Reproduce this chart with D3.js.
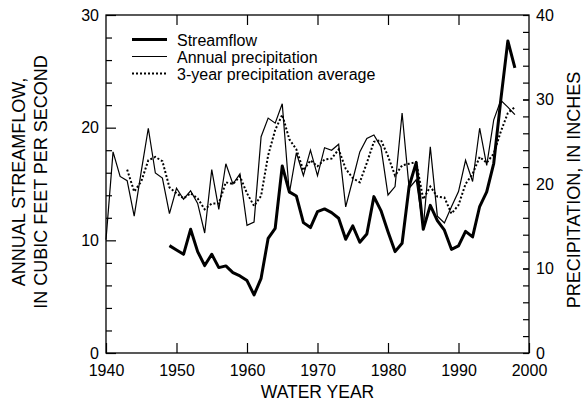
<!DOCTYPE html>
<html>
<head>
<meta charset="utf-8">
<script src="https://cdn.jsdelivr.net/npm/d3@7"></script>
<style>
  html, body { margin: 0; padding: 0; background: #fff; }
  svg { display: block; }
  text { font-family: "Liberation Sans", Arial, Helvetica, sans-serif; fill: #000; }
</style>
</head>
<body>
<svg id="chart" width="586" height="402"></svg>
<script>
// ---- Data ----
const streamYears = d3.range(1949, 1999);
const streamflow = [9.53, 9.15, 8.76, 10.98, 9.0, 7.76, 8.76, 7.58, 7.73, 7.14,
  6.84, 6.43, 5.16, 6.63, 10.18, 11.07, 16.6, 14.3, 13.94, 11.57,
  11.13, 12.55, 12.79, 12.46, 11.96, 10.1, 11.28, 9.83, 10.57, 13.88,
  12.64, 10.77, 9.0, 9.74, 14.8, 16.9, 10.98, 13.1, 11.75, 10.9,
  9.2, 9.5, 10.8, 10.3, 13.0, 14.3, 16.84, 22.46, 27.7, 25.3];

const precipYears = d3.range(1940, 1999);
const annualPrecip = [13.4, 23.8, 20.9, 20.4, 16.2, 21.5, 26.6, 21.3, 20.7, 16.5,
  19.5, 18.2, 19.2, 17.7, 14.2, 21.7, 17.0, 22.4, 20.0, 21.2,
  15.1, 15.5, 25.6, 27.8, 27.2, 29.5, 18.9, 23.7, 21.0, 24.0,
  21.0, 24.3, 24.0, 24.7, 17.3, 20.5, 23.8, 25.4, 25.8, 24.4,
  18.7, 19.7, 28.4, 19.5, 20.5, 14.8, 24.4, 16.2, 15.4, 17.3,
  19.1, 22.8, 20.3, 26.6, 22.2, 27.6, 29.9, 29.1, 28.2];

const avgYears = d3.range(1943, 1999);
const avgPrecip = [21.7, 19.1, 20.3, 22.8, 23.2, 22.7, 19.6,
  18.9, 18.3, 18.9, 18.3, 17.0, 17.7, 17.7, 20.2, 20.0, 20.9,
  18.9, 17.4, 18.6, 23.4, 26.4, 28.2, 25.3, 24.1, 21.6, 22.8,
  22.1, 22.9, 23.0, 24.1, 21.8, 20.7, 20.2, 22.5, 25.0, 25.2,
  23.3, 21.0, 22.2, 22.4, 22.6, 18.2, 19.7, 18.5, 18.4, 16.5,
  17.5, 20.0, 21.2, 23.2, 22.5, 23.6, 26.2, 28.4, 29.1];

const xTicks = [1940, 1950, 1960, 1970, 1980, 1990, 2000];
const leftLabels = [0, 10, 20, 30];
const leftMinor = [2, 4, 6, 8, 12, 14, 16, 18, 22, 24, 26, 28];
const rightLabels = [0, 10, 20, 30, 40];
const rightMinor = d3.range(2, 40, 2);

const legendItems = ["Streamflow", "Annual precipitation", "3-year precipitation average"];

// ---- Layout ----
const L = 106, R = 529, T = 15, B = 353;
const svg = d3.select("#chart");

const x = d3.scaleLinear().domain([1940, 2000]).range([L, R]);
const yL = d3.scaleLinear().domain([0, 30]).range([B, T]);
const yR = d3.scaleLinear().domain([0, 40]).range([B, T]);

const tickFont = 16;

function styleAxis(g) {
  g.select(".domain").remove();
  g.selectAll("line").attr("stroke", "#000").attr("stroke-width", 1.2);
  g.selectAll("text").attr("font-size", tickFont).attr("fill", "#000")
    .style("font-family", '"Liberation Sans", Arial, Helvetica, sans-serif');
}

// bottom axis
svg.append("g").attr("transform", `translate(0,${B})`)
  .call(d3.axisBottom(x).tickValues(xTicks).tickFormat(d3.format("d"))
    .tickSizeInner(-10).tickSizeOuter(0).tickPadding(12))
  .call(styleAxis);
// top axis ticks
svg.append("g").attr("transform", `translate(0,${T})`)
  .call(d3.axisTop(x).tickValues(xTicks.slice(1, -1)).tickFormat("")
    .tickSizeInner(-10).tickSizeOuter(0))
  .call(styleAxis);
// left axis
svg.append("g").attr("transform", `translate(${L},0)`)
  .call(d3.axisLeft(yL).tickValues(leftLabels).tickFormat(d3.format("d"))
    .tickSizeInner(-10).tickSizeOuter(0).tickPadding(7))
  .call(styleAxis);
svg.append("g").attr("transform", `translate(${L},0)`)
  .call(d3.axisLeft(yL).tickValues(leftMinor).tickFormat("")
    .tickSizeInner(-6).tickSizeOuter(0))
  .call(styleAxis);
// right axis
svg.append("g").attr("transform", `translate(${R},0)`)
  .call(d3.axisRight(yR).tickValues(rightLabels).tickFormat(d3.format("d"))
    .tickSizeInner(-6).tickSizeOuter(0).tickPadding(7))
  .call(styleAxis);
svg.append("g").attr("transform", `translate(${R},0)`)
  .call(d3.axisRight(yR).tickValues(rightMinor).tickFormat("")
    .tickSizeInner(-6).tickSizeOuter(0))
  .call(styleAxis);

// frame
svg.append("rect").attr("x", L).attr("y", T).attr("width", R - L).attr("height", B - T)
  .attr("fill", "none").attr("stroke", "#000").attr("stroke-width", 1.3);

// ---- Lines ----
const precipLine = d3.line().x(d => x(d[0])).y(d => yR(d[1]));
const flowLine = d3.line().x(d => x(d[0])).y(d => yL(d[1]));

svg.append("path")
  .datum(precipYears.map((yr, i) => [yr, annualPrecip[i]]))
  .attr("d", precipLine).attr("fill", "none").attr("stroke", "#000")
  .attr("stroke-width", 1.2).attr("stroke-linejoin", "miter");

svg.append("path")
  .datum(avgYears.map((yr, i) => [yr, avgPrecip[i]]))
  .attr("d", precipLine).attr("fill", "none").attr("stroke", "#000")
  .attr("stroke-width", 2).attr("stroke-dasharray", "2,2");

svg.append("path")
  .datum(streamYears.map((yr, i) => [yr, streamflow[i]]))
  .attr("d", flowLine).attr("fill", "none").attr("stroke", "#000")
  .attr("stroke-width", 3).attr("stroke-linejoin", "round");

// ---- Legend ----
const legendStyles = [
  { w: 3, dash: null },
  { w: 1.2, dash: null },
  { w: 2, dash: "2,2" }
];
const lg = svg.append("g");
legendItems.forEach((label, i) => {
  const yy = 39.5 + i * 17;
  const ln = lg.append("line").attr("x1", 132).attr("x2", 167).attr("y1", yy).attr("y2", yy)
    .attr("stroke", "#000").attr("stroke-width", legendStyles[i].w);
  if (legendStyles[i].dash) ln.attr("stroke-dasharray", legendStyles[i].dash);
  lg.append("text").attr("x", 177).attr("y", yy + 6.5).attr("font-size", 16).text(label);
});

// ---- Axis titles ----
svg.append("text").attr("x", (L + R) / 2).attr("y", 398).attr("text-anchor", "middle")
  .attr("font-size", 17.5).text("WATER YEAR");

svg.append("text").attr("transform", "translate(25,182) rotate(-90)")
  .attr("text-anchor", "middle").attr("font-size", 18).text("ANNUAL STREAMFLOW,");
svg.append("text").attr("transform", "translate(47,182) rotate(-90)")
  .attr("text-anchor", "middle").attr("font-size", 18).text("IN CUBIC FEET PER SECOND");

svg.append("text").attr("transform", "translate(580,190) rotate(-90)")
  .attr("text-anchor", "middle").attr("font-size", 18).text("PRECIPITATION, IN INCHES");
</script>
</body>
</html>
